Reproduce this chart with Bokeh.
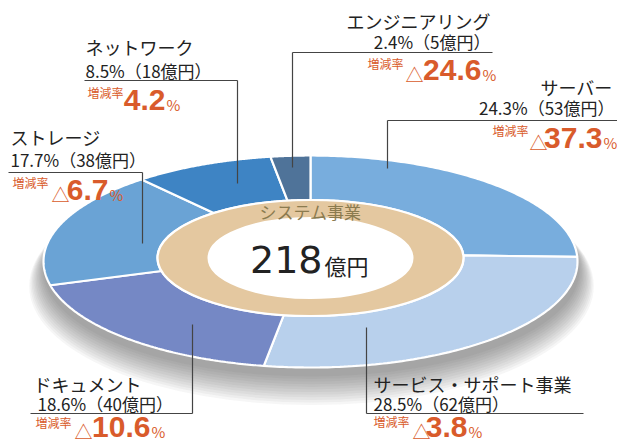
import numpy as np
from bokeh.plotting import figure
from bokeh.models import Range1d
from bokeh.embed import file_html
from bokeh.resources import INLINE
from bokeh.core.properties import value

# ---------------- data ----------------
categories = ["サーバー", "サービス・サポート事業", "ドキュメント", "ストレージ", "ネットワーク", "エンジニアリング"]
shares = [24.3, 28.5, 18.6, 17.7, 8.5, 2.4]          # %
amounts = [53, 62, 40, 38, 18, 5]                     # 億円
growth_neg = [True, True, True, True, False, True]    # △ = decrease
growth_vals = ["37.3", "3.8", "10.6", "6.7", "4.2", "24.6"]
total_value = "218"
total_unit = "億円"
ring_label = "システム事業"
growth_label = "増減率"

colors = ["#78addd", "#b8d0ec", "#7588c5", "#6aa3d5", "#3e84c4", "#4f7399"]
ORANGE = "#d95b2b"
JP = value("Noto Sans CJK JP")
NUM = value("Liberation Sans")

# ---------------- geometry (layout) ----------------
CX = 310
OUT_CY, OUT_A, OUT_B = 261, 267, 106
IN_CY, IN_A, IN_B = 257.5, 153, 58
HOLE_A, HOLE_B = 102, 40

p = figure(width=617, height=444, x_range=Range1d(0, 617), y_range=Range1d(444, 0),
           output_backend="svg", toolbar_location=None, min_border=0)
p.axis.visible = False
p.grid.visible = False
p.outline_line_color = None
p.background_fill_color = "white"
p.border_fill_color = "white"

# soft shadow under the pie (only shows below it)
for k in range(12):
    p.ellipse(x=CX + 1, y=OUT_CY + 9 + k * 1.4, width=2 * OUT_A + 2 + k * 2.6, height=2 * OUT_B + k * 2.4,
              fill_color="#2a2a2a", fill_alpha=0.045, line_color=None)

# outer ring segments, clockwise from 12 o'clock
cum = np.concatenate([[0], np.cumsum(shares)]) / sum(shares)
xs, ys = [], []
for i in range(len(shares)):
    t = np.linspace(2 * np.pi * cum[i], 2 * np.pi * cum[i + 1], 120)
    ox = CX + OUT_A * np.sin(t)
    oy = OUT_CY - OUT_B * np.cos(t)
    ix = CX + IN_A * np.sin(t[::-1])
    iy = IN_CY - IN_B * np.cos(t[::-1])
    xs.append(list(np.concatenate([ox, ix])))
    ys.append(list(np.concatenate([oy, iy])))
p.patches(xs, ys, fill_color=colors, line_color="white", line_width=2.2)

# inner tan ring and white hole
p.ellipse(x=CX, y=IN_CY, width=2 * IN_A, height=2 * IN_B, fill_color="#e4c8a0",
          line_color="white", line_width=2.2)
p.ellipse(x=CX, y=IN_CY, width=2 * HOLE_A, height=2 * HOLE_B, fill_color="white",
          line_color="white", line_width=2)

p.text(x=[CX], y=[211], text=[ring_label], text_font=JP, text_font_size="17px",
       text_color="#8b7b4f", text_align="center", text_baseline="middle")
p.text(x=[322], y=[259], text=[total_value], text_font=value("DejaVu Sans"), text_font_size="38px",
       text_color="#222222", text_align="right", text_baseline="middle")
p.text(x=[324], y=[264], text=[total_unit], text_font=JP, text_font_size="22px",
       text_color="#222222", text_align="left", text_baseline="middle")

# ---------------- labels layout ----------------
layout = {
    "サーバー": dict(align="right", name=(612, 86), l2=(614, 107), ul=(387, 617, 120), vl=(387, 168),
                  gl=(492, 130), tri=529, pct=603, base=148),
    "サービス・サポート事業": dict(align="left", name=(373, 383), l2=(373, 403), ul=(366, 583, 413), vl=(366, 327),
                       gl=(373, 421), tri=412, pct=468, base=437),
    "ドキュメント": dict(align="left", name=(33, 383), l2=(37, 403), ul=(30, 192, 413), vl=(192, 324),
                    gl=(35, 422), tri=74, pct=151, base=437),
    "ストレージ": dict(align="left", name=(10, 136), l2=(10, 159), ul=(8, 142, 172), vl=(142, 243),
                  gl=(12, 182), tri=51, pct=109, base=200),
    "ネットワーク": dict(align="left", name=(85, 46), l2=(85, 70), ul=(84, 237, 80), vl=(237, 183),
                    gl=(87, 92), tri=None, pct=166, base=110),
    "エンジニアリング": dict(align="right", name=(490, 20), l2=(490, 41), ul=(292, 492, 52), vl=(292, 167),
                      gl=(367, 63), tri=405, pct=482, base=80),
}

for i, cat in enumerate(categories):
    L = layout[cat]
    ux0, ux1, uy = L["ul"]
    vx, vy = L["vl"]
    p.line([ux0, ux1], [uy, uy], line_color="#444444", line_width=1.2)
    p.line([vx, vx], [uy, vy], line_color="#444444", line_width=1.2)
    p.text(x=[L["name"][0]], y=[L["name"][1]], text=[cat], text_font=JP, text_font_size="18px",
           text_color="#222222", text_align=L["align"], text_baseline="middle")
    p.text(x=[L["l2"][0]], y=[L["l2"][1]], text=[f"{shares[i]}%（{amounts[i]}億円）"], text_font=JP,
           text_font_size="17px", text_color="#222222", text_align=L["align"], text_baseline="middle")
    p.text(x=[L["gl"][0]], y=[L["gl"][1]], text=[growth_label], text_font=JP, text_font_size="12px",
           text_color=ORANGE, text_align="left", text_baseline="middle")
    b = L["base"]
    if growth_neg[i]:
        p.text(x=[L["tri"]], y=[b - 7], text=["△"], text_font=JP, text_font_size="18px",
               text_color=ORANGE, text_align="left", text_baseline="middle")
    p.text(x=[L["pct"] - 1], y=[b - 11], text=[growth_vals[i]], text_font=NUM, text_font_size="30px",
           text_font_style="bold", text_color=ORANGE, text_align="right", text_baseline="middle")
    p.text(x=[L["pct"]], y=[b - 6], text=["%"], text_font=JP, text_font_size="15px",
           text_color=ORANGE, text_align="left", text_baseline="middle")

open("out.html", "w").write(file_html(p, INLINE))
